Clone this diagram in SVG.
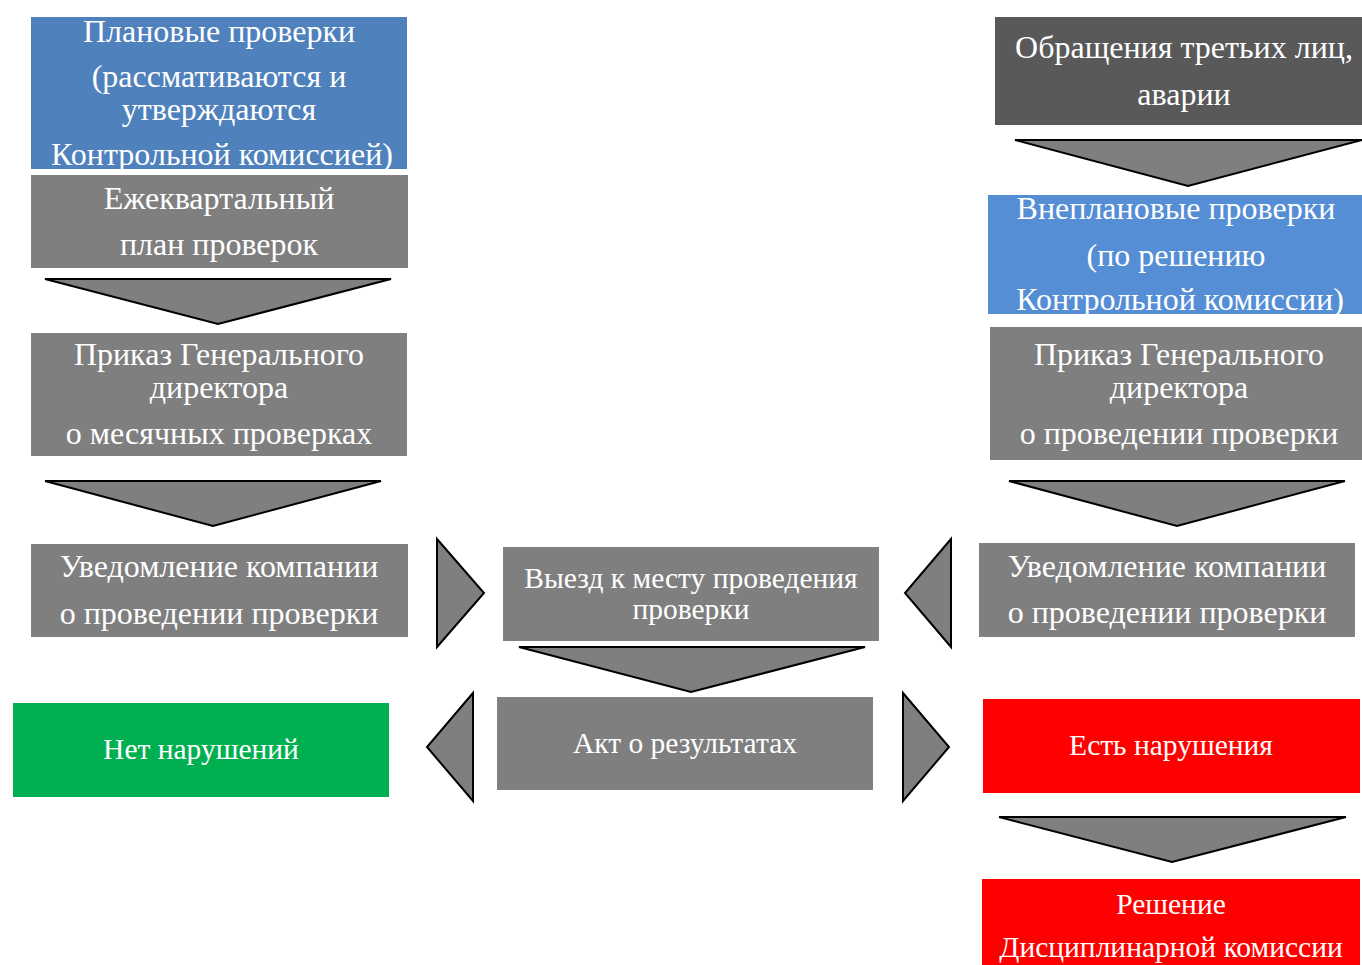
<svg xmlns="http://www.w3.org/2000/svg" width="1362" height="965" viewBox="0 0 1362 965">
<style>
text{font-family:"Liberation Serif","Times New Roman",serif;font-size:32px;fill:#ffffff;text-anchor:middle;dominant-baseline:central}
.sm{font-size:29.5px}
.gray{fill:#7f7f7f}
.arr{fill:#7f7f7f;stroke:#000000;stroke-width:2;stroke-linejoin:miter}
</style>
<rect width="1362" height="965" fill="#ffffff"/>
<g id="connectors">
<polygon class="arr" points="45,279 391,279 218,324"/>
<polygon class="arr" points="45,481 381,481 213,526"/>
<polygon class="arr" points="437,539 484,593 437,647"/>
<polygon class="arr" points="951,539 905,593 951,647"/>
<polygon class="arr" points="519,647 865,647 691,692"/>
<polygon class="arr" points="473,693 427,747 473,801"/>
<polygon class="arr" points="903,693 949,747 903,801"/>
<polygon class="arr" points="999,817 1346,817 1172,862"/>
<polygon class="arr" points="1015,140 1362,140 1188,186"/>
<polygon class="arr" points="1009,481 1345,481 1177,526"/>
</g>
<g id="planned">
<rect x="31" y="17" width="376" height="152" fill="#4f81bd"/>
<text x="219" y="31">Плановые проверки</text>
<text x="219" y="76">(рассмативаются и</text>
<text x="219" y="109">утверждаются</text>
<text x="222" y="154">Контрольной комиссией)</text>
</g>
<g id="quarterly">
<rect x="31" y="175" width="377" height="93" class="gray"/>
<text x="219" y="198">Ежеквартальный</text>
<text x="219" y="244">план проверок</text>
</g>
<g id="order-left">
<rect x="31" y="333" width="376" height="123" class="gray"/>
<text x="219" y="354">Приказ Генерального</text>
<text x="219" y="387">директора</text>
<text x="219" y="433">о месячных проверках</text>
</g>
<g id="notice-left">
<rect x="31" y="544" width="377" height="93" class="gray"/>
<text x="219" y="566">Уведомление компании</text>
<text x="219" y="613">о проведении проверки</text>
</g>
<g id="visit">
<rect x="503" y="547" width="376" height="94" class="gray"/>
<text class="sm" x="691" y="578">Выезд к месту проведения</text>
<text class="sm" x="691" y="609">проверки</text>
</g>
<g id="act">
<rect x="497" y="697" width="376" height="93" class="gray"/>
<text class="sm" x="685" y="743">Акт о результатах</text>
</g>
<g id="no-violations">
<rect x="13" y="703" width="376" height="94" fill="#00b050"/>
<text class="sm" x="201" y="749">Нет нарушений</text>
</g>
<g id="violations">
<rect x="983" y="699" width="377" height="94" fill="#ff0000"/>
<text class="sm" x="1171" y="745">Есть нарушения</text>
</g>
<g id="decision">
<rect x="982" y="879" width="378" height="86" fill="#ff0000"/>
<text class="sm" x="1171" y="904">Решение</text>
<text class="sm" x="1171" y="947">Дисциплинарной комиссии</text>
</g>
<g id="appeals">
<rect x="995" y="17" width="367" height="108" fill="#595959"/>
<text x="1184" y="47">Обращения третьих лиц,</text>
<text x="1184" y="94">аварии</text>
</g>
<g id="unplanned">
<rect x="988" y="195" width="374" height="119" fill="#558ed5"/>
<text x="1176" y="208">Внеплановые проверки</text>
<text x="1176" y="255">(по решению</text>
<text x="1180" y="299">Контрольной комиссии)</text>
</g>
<g id="order-right">
<rect x="990" y="327" width="372" height="133" class="gray"/>
<text x="1179" y="354">Приказ Генерального</text>
<text x="1179" y="387">директора</text>
<text x="1179" y="433">о проведении проверки</text>
</g>
<g id="notice-right">
<rect x="979" y="543" width="376" height="94" class="gray"/>
<text x="1167" y="566">Уведомление компании</text>
<text x="1167" y="612">о проведении проверки</text>
</g>
</svg>
